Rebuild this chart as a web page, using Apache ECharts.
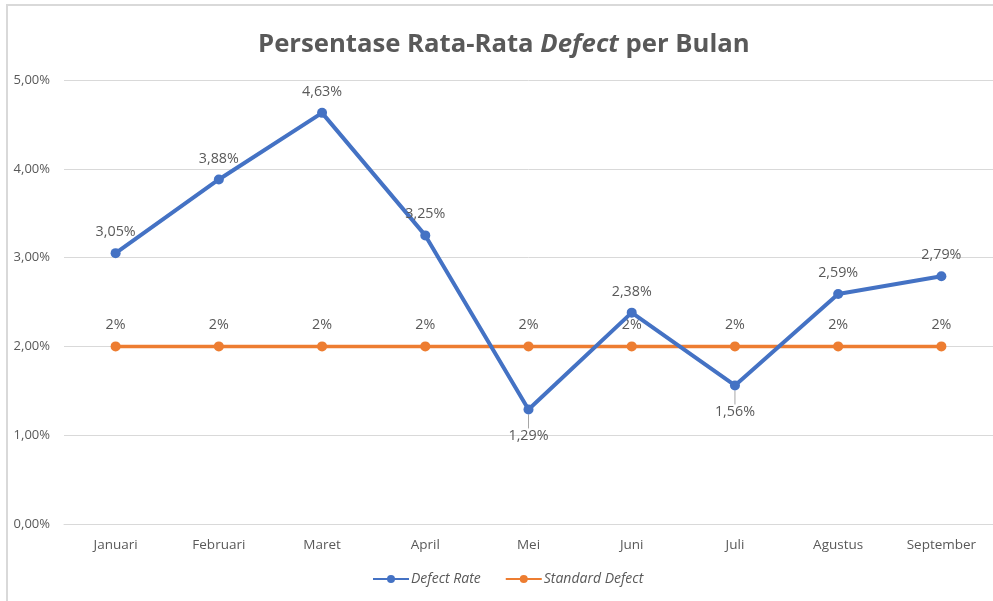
<!DOCTYPE html>
<html><head><meta charset="utf-8">
<script src="https://cdn.jsdelivr.net/npm/echarts@6/dist/echarts.min.js"></script>
<style>html,body{margin:0;padding:0;background:#fff}#c{width:993px;height:601px}</style>
</head><body><div id="c"></div>
<script>
const categories = ['Januari','Februari','Maret','April','Mei','Juni','Juli','Agustus','September'];
const defectRate = [3.05, 3.88, 4.63, 3.25, 1.29, 2.38, 1.56, 2.59, 2.79];
const standardDefect = [2, 2, 2, 2, 2, 2, 2, 2, 2];
const yTicks = [0, 1, 2, 3, 4, 5];
const belowIdx = [4, 6];

const FONT = 'Open Sans';
const TXT = '#595959';
const chart = echarts.init(document.getElementById('c'));
chart.setOption({
  animation: false,
  textStyle: {fontFamily: FONT},
  graphic: [{type:'rect', shape:{x:7, y:5, width:1100, height:1000}, style:{fill:'none', stroke:'#d9d9d9', lineWidth:2}, silent:true}],
  title: {
    text: '{a|Persentase Rata-Rata }{i|Defect}{a| per Bulan}',
    left: 253, top: 27,
    textStyle: {rich: {
      a: {fontFamily: FONT, fontSize: 25.7, fontWeight: 'bold', color: TXT},
      i: {fontFamily: FONT, fontSize: 25.7, fontWeight: 'bold', fontStyle: 'italic', color: TXT}
    }}
  },
  legend: {
    bottom: 10, left: 367, itemWidth: 36, itemHeight: 10, itemGap: 24,
    textStyle: {fontFamily: FONT, fontSize: 14, fontStyle: 'italic', color: TXT, padding: [0,0,0,-3]},
    data: ['Defect Rate', 'Standard Defect']
  },
  grid: {left: 64, right: 0, top: 80, bottom: 77, containLabel: false},
  xAxis: {
    type: 'category', data: categories, boundaryGap: true,
    axisLine: {show: true, lineStyle: {color: '#d9d9d9'}},
    axisTick: {show: false},
    axisLabel: {color: TXT, fontSize: 13.5, margin: 14, fontFamily: FONT}
  },
  yAxis: {
    type: 'value', min: 0, max: 5, interval: 1,
    axisLine: {show: false}, axisTick: {show: false},
    splitLine: {lineStyle: {color: '#d9d9d9'}},
    axisLabel: {color: TXT, fontSize: 13, margin: 14, fontFamily: FONT,
      formatter: v => v.toFixed(2).replace('.', ',') + '%'}
  },
  series: [
    {
      name: 'Defect Rate', type: 'line',
      data: defectRate.map((v, i) => belowIdx.includes(i)
        ? {value: v, label: {position: 'bottom', distance: 4}, labelLine: {show: true, lineStyle: {color: '#a6a6a6', width: 1}}}
        : {value: v, labelLine: {show: false}}),
      color: '#4472C4', lineStyle: {width: 4}, symbol: 'circle', symbolSize: 10, z: 3,
      label: {show: true, position: 'top', distance: 9, color: TXT, fontSize: 14.3, fontFamily: FONT,
        formatter: p => p.value.toFixed(2).replace('.', ',') + '%'},
      labelLine: {show: false},
      labelLayout: p => belowIdx.includes(p.dataIndex) ? {dy: 10} : {}
    },
    {
      name: 'Standard Defect', type: 'line', data: standardDefect,
      color: '#ED7D31', lineStyle: {width: 3.5}, symbol: 'circle', symbolSize: 10, z: 2,
      label: {show: true, position: 'top', distance: 9, color: TXT, fontSize: 14.3, fontFamily: FONT,
        formatter: p => p.value + '%'}
    }
  ]
});
</script></body></html>
